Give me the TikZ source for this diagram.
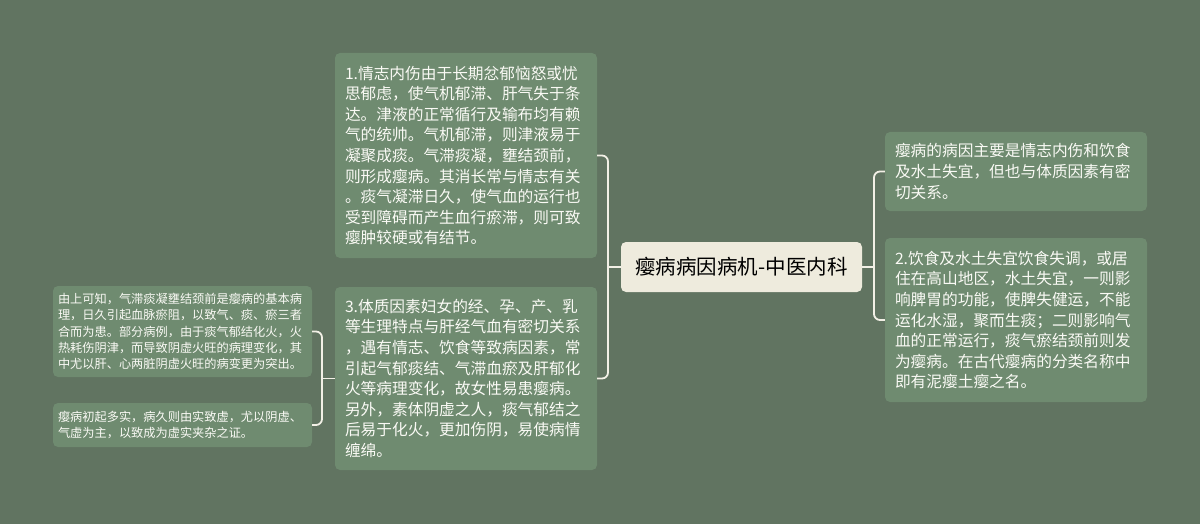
\documentclass[tikz,border=0pt]{standalone}
\usepackage{fontspec}
\newfontfamily\cjk{Noto Sans CJK SC}
\usetikzlibrary{positioning}
\definecolor{bgcol}{HTML}{617461}
\definecolor{boxcol}{HTML}{6F8B70}
\definecolor{corecol}{HTML}{EEEBDD}
\definecolor{linecol}{HTML}{F2F0E6}
\definecolor{txtcol}{HTML}{FAFAF5}

\begin{document}
\begin{tikzpicture}[x=1pt,y=-1pt,
        topic/.style={fill=boxcol,text=txtcol,rounded corners=5pt,align=left,
            text width=242pt,inner xsep=10pt,inner ysep=0pt,
            font={\cjk\fontsize{15.7}{20.6}\selectfont}},
        leaf/.style={topic,text width=249pt,inner xsep=5pt,
            font={\cjk\fontsize{12.2}{16.3}\selectfont}},
        core/.style={fill=corecol,text=black,rounded corners=5pt,inner sep=0pt,
            minimum width=241pt,minimum height=50pt,
            font={\cjk\fontsize{20.5}{24}\selectfont}},
        link/.style={draw=linecol,line width=1.8pt,rounded corners=6pt}]
        \fill[bgcol] (0,0) rectangle (1200,524);

        \node[core] at (741.5,267) (main) {瘿病病因病机-中医内科};

        \node[topic,minimum height=205pt] at (466,155.5) (qing) {1.情志内伤由于长期忿郁恼怒或忧\\思郁虑，使气机郁滞、肝气失于条\\达。津液的正常循行及输布均有赖\\气的统帅。气机郁滞，则津液易于\\凝聚成痰。气滞痰凝，壅结颈前，\\则形成瘿病。其消长常与情志有关\\。痰气凝滞日久，使气血的运行也\\受到障碍而产生血行瘀滞，则可致\\瘿肿较硬或有结节。};
        \node[topic,minimum height=183pt] at (466,378.5) (tizhi) {3.体质因素妇女的经、孕、产、乳\\等生理特点与肝经气血有密切关系\\，遇有情志、饮食等致病因素，常\\引起气郁痰结、气滞血瘀及肝郁化\\火等病理变化，故女性易患瘿病。\\另外，素体阴虚之人，痰气郁结之\\后易于化火，更加伤阴，易使病情\\缠绵。};

        \node[leaf,minimum height=91pt] at (182.5,331.5) (jiben) {由上可知，气滞痰凝壅结颈前是瘿病的基本病\\理，日久引起血脉瘀阻，以致气、痰、瘀三者\\合而为患。部分病例，由于痰气郁结化火，火\\热耗伤阴津，而导致阴虚火旺的病理变化，其\\中尤以肝、心两脏阴虚火旺的病变更为突出。};
        \node[leaf,minimum height=44pt] at (182.5,425) (chuqi) {瘿病初起多实，病久则由实致虚，尤以阴虚、\\气虚为主，以致成为虚实夹杂之证。};

        \node[topic,minimum height=79pt] at (1016,171.5) (zong) {瘿病的病因主要是情志内伤和饮食\\及水土失宜，但也与体质因素有密\\切关系。};
        \node[topic,minimum height=164pt] at (1016,320) (shui) {2.饮食及水土失宜饮食失调，或居\\住在高山地区，水土失宜，一则影\\响脾胃的功能，使脾失健运，不能\\运化水湿，聚而生痰；二则影响气\\血的正常运行，痰气瘀结颈前则发\\为瘿病。在古代瘿病的分类名称中\\即有泥瘿土瘿之名。};

        % brackets
        \coordinate (jl) at (608,267);
        \coordinate (jr) at (874,267);
        \coordinate (jy) at (322,378.5);
        \draw[link] (main.west) -- (jl);
        \draw[link] (qing.east) -| (jl) |- (tizhi.east);
        \draw[link] (main.east) -- (jr);
        \draw[link] (zong.west) -| (jr) |- (shui.west);
        \draw[link] (tizhi.west) -- (jy);
        \draw[link] (jiben.east) -| (jy) |- (chuqi.east);
    \end{tikzpicture}
\end{document}
